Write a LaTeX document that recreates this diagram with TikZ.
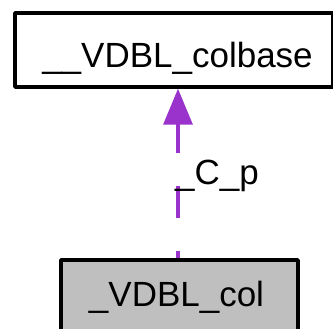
\documentclass[tikz,border=0pt]{standalone}
\usepackage{fontspec}
\setmainfont{Liberation Sans}
\usetikzlibrary{arrows.meta}
\definecolor{edgepurple}{HTML}{9933CC}
\definecolor{boxgray}{HTML}{BFBFBF}
\tikzset{
  classbox/.style={draw=black, line width=3.4pt, line join=round, rectangle, inner sep=0pt,
    minimum height=74pt, font=\fontsize{35}{42}\selectfont},
  edgelabel/.style={inner sep=0pt, font=\fontsize{35}{42}\selectfont},
  inherit/.style={draw=edgepurple, line width=3.3pt,
    dash pattern=on 32pt off 33pt, dash phase=25pt,
    -{Triangle[length=36pt,width=29pt,fill=edgepurple]}}
}
\begin{document}
\begin{tikzpicture}[x=1pt,y=1pt]
\useasboundingbox (0,0) rectangle (333,329);
\clip (0,0) rectangle (333,329);
\node[classbox, minimum width=318pt, text height=40pt, text depth=4pt] (a) at (174,279) {\hspace*{7pt}\_\_VDBL\_colbase};
\node[classbox, fill=boxgray, minimum width=237pt, text height=26pt, text depth=6pt] (b) at (179.5,32) {\_VDBL\_col\hspace*{6pt}};
\draw[inherit] (b.north -| 178,0) -- (a.south -| 178,0);
\node[edgelabel, anchor=base west] (c) at (175,144) {\_C\_p};
\end{tikzpicture}
\end{document}
